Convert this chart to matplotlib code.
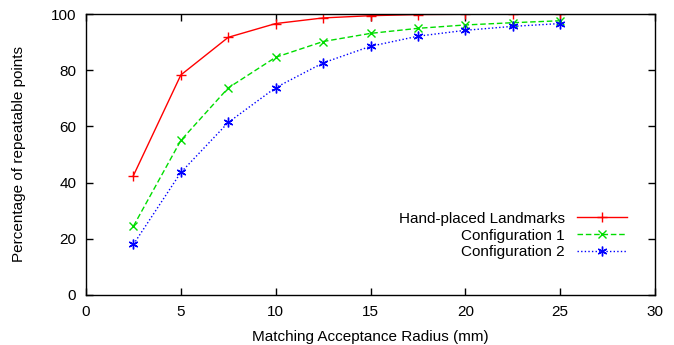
import matplotlib
matplotlib.use("Agg")
import matplotlib.pyplot as plt

radius = [2.5, 5, 7.5, 10, 12.5, 15, 17.5, 20, 22.5, 25]
hand_placed = [42.5, 78.3, 91.7, 96.6, 98.6, 99.4, 99.8, 99.9, 100.0, 100.0]
config1 = [24.5, 55.0, 73.7, 84.6, 90.2, 93.1, 94.9, 96.1, 96.9, 97.6]
config2 = [18.0, 43.6, 61.4, 73.8, 82.6, 88.5, 92.1, 94.2, 95.6, 96.6]
labels = ["Hand-placed Landmarks", "Configuration 1", "Configuration 2"]

plt.rcParams['font.family'] = ['Liberation Sans', 'DejaVu Sans']
FS = 11

fig = plt.figure(figsize=(6.74, 3.45), dpi=100)
ax = fig.add_axes([86/674, 50/345, (655-86)/674, (295-14)/345])

ax.plot(radius, hand_placed, color='#ff0000', linestyle='-', linewidth=1.0,
        marker='+', markersize=7, markeredgewidth=1.0, label=labels[0])
ax.plot(radius, config1, color='#00dd00', linestyle=(0, (4, 2)), linewidth=1.0,
        marker='x', markersize=6, markeredgewidth=1.0, label=labels[1])
ax.plot(radius, config2, color='#0000ff', linestyle=(0, (1, 1.6)), linewidth=1.0,
        marker=(6, 2, 0), markersize=7, markeredgewidth=1.0, label=labels[2])

ax.set_xlim(0, 30)
ax.set_ylim(0, 100)
ax.set_xticks(range(0, 31, 5))
ax.set_yticks(range(0, 101, 20))
ax.tick_params(direction='in', top=True, right=True, length=5, width=1,
               labelsize=FS, pad=7)
for s in ax.spines.values():
    s.set_linewidth(1.0)

ax.set_xlabel("Matching Acceptance Radius (mm)", fontsize=FS, labelpad=8)
ax.set_ylabel("Percentage of repeatable points", fontsize=FS, labelpad=18)

leg = ax.legend(loc='lower right', bbox_to_anchor=(0.965, 0.1), frameon=False,
                markerfirst=False, fontsize=FS, handlelength=3.3,
                handletextpad=0.8, labelspacing=0.18, borderpad=0)
for t in leg.get_texts():
    t.set_ha('right')
leg._legend_box.align = 'right'

fig.savefig("out.png", dpi=100)
